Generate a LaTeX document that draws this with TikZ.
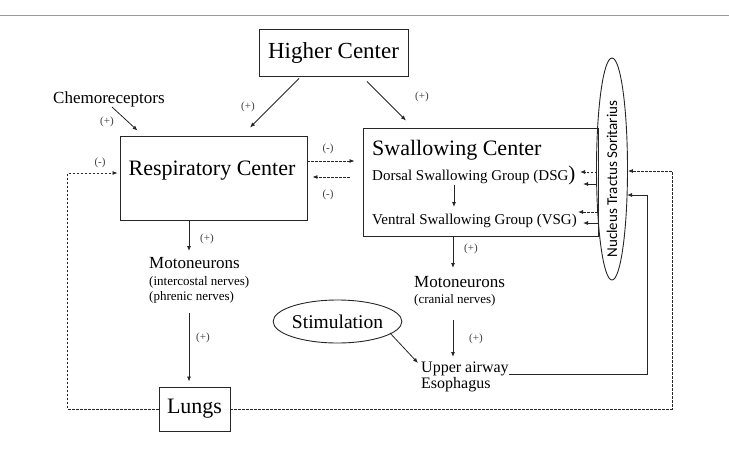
\documentclass[tikz,border=0pt]{standalone}
\usepackage{fontspec}
\setmainfont{Liberation Serif}
\newfontfamily\ntsfont{Carlito}
\usetikzlibrary{calc,arrows.meta,shapes.geometric}
\begin{document}
\begin{tikzpicture}[x=1pt,y=-1pt,
  box/.style={draw=black!85, line width=0.9pt, inner sep=0pt},
  arr/.style={draw=black!85, line width=0.8pt, -{Latex[length=5pt,width=4pt]}},
  darr/.style={arr, dash pattern=on 2.5pt off 1.5pt},
  lbl/.style={font=\fontsize{11}{13}\selectfont, text=black!75, inner sep=0pt},
  txt/.style={inner sep=0pt, anchor=base west},
  fbig/.style={font=\fontsize{22}{26}\selectfont},
  fmid/.style={font=\fontsize{17}{20}\selectfont},
  fsub/.style={font=\fontsize{15}{18}\selectfont},
  fsmall/.style={font=\fontsize{13}{15}\selectfont}]
\useasboundingbox (0,0) rectangle (729,459);
\draw[black!40, line width=0.8pt] (0,15) -- (729,15);

% boxes
\node[box, minimum width=149pt, minimum height=47pt, font=\fontsize{23}{27}\selectfont] (higher) at (333.5,52.5) {Higher Center};
\node[box, minimum width=187pt, minimum height=84pt] (resp) at (213.5,178) {};
\node[fbig, inner sep=0pt, anchor=base] (resptxt) at (212,175) {Respiratory Center};
\node[box, minimum width=235pt, minimum height=108pt] (swal) at (480.5,182) {};
\node[txt, fbig] (swaltxt) at (372,155) {Swallowing Center};
\node[txt, fsub] (dsg) at (372,180) {Dorsal Swallowing Group (DSG{\fontsize{21}{21}\selectfont)}};
\node[txt, fsub] (vsg) at (372,224) {Ventral Swallowing Group (VSG)};
\node[box, ellipse, minimum width=31pt, minimum height=222pt] (nts) at (612,169) {};
\node[rotate=90, inner sep=0pt, font=\ntsfont\fontsize{15}{18}\selectfont] (ntstxt) at (612,179) {Nucleus Tractus Soritarius};
\node[box, minimum width=71pt, minimum height=44pt, font=\fontsize{22}{26}\selectfont] (lungs) at (194.5,409) {Lungs};
\node[box, ellipse, minimum width=127pt, minimum height=43pt, font=\fontsize{19.5}{23}\selectfont] (stim) at (337.5,321.5) {Stimulation};

% free texts
\node[txt, fmid] (chemo) at (53,103) {Chemoreceptors};
\node[txt, fmid] (moto1) at (149,268) {Motoneurons};
\node[txt, fsmall] (moto1a) at (149,285) {(intercostal nerves)};
\node[txt, fsmall] (moto1b) at (149,300) {(phrenic nerves)};
\node[txt, fmid] (moto2) at (414,287) {Motoneurons};
\node[txt, fsmall] (moto2a) at (414,303) {(cranial nerves)};
\node[txt, font=\fontsize{16}{19}\selectfont] (upper) at (421,372) {Upper airway};
\node[txt, font=\fontsize{16}{19}\selectfont] (eso) at (421,388) {Esophagus};

% turning points of the feedback lines
\coordinate (uturn) at ($(nts.center)+(35,205)$);
\coordinate (dturn) at ($(nts.center)+(60,240)$);

% solid arrows
\draw[arr] ($(higher.south)+(-34.5,2)$) -- ($(resp.north)+(36.5,-8)$);
\draw[arr] ($(higher.south)+(33.5,5)$) -- ($(swal.north)+(-74.5,-7)$);
\draw[arr] ($(chemo.base west)+(59,4)$) -- ($(resp.north west)+(18,-5)$);
\draw[arr] ($(resp.south)+(-24.5,0)$) -- ($(moto1.base west)+(40,-17)$);
\draw[arr] ($(moto1b.base west)+(40,13)$) -- ($(lungs.north)+(-5.5,-5)$);
\draw[arr] ($(dsg.base west)+(82,5)$) -- ($(vsg.base west)+(82,-17)$);
\draw[arr] ($(swal.south)+(-27.5,0)$) -- ($(moto2.base west)+(39,-19)$);
\draw[arr] ($(moto2a.base west)+(39,17)$) -- ($(upper.base west)+(32,-15)$);
\draw[arr] ($(stim.center)+(52.5,11.5)$) -- ($(upper.base west)+(-3,-9)$);
\draw[arr] ($(upper.base east)+(0,2)$) -- (uturn) |- ($(nts.center)+(15,26)$);
\draw[arr] ($(nts.center)+(-15,15)$) -- ($(dsg.base west)+(211,4)$);
\draw[arr] ($(nts.center)+(-14,54)$) -- ($(vsg.base west)+(211,-1)$);

% dashed arrows
\draw[darr] ($(nts.center)+(-15,3)$) -- ($(dsg.base west)+(208,-8)$);
\draw[darr] ($(nts.center)+(-14.5,43)$) -- ($(vsg.base west)+(206,-12)$);
\draw[darr] ($(resp.east)+(0,-17)$) -- ($(swal.west)+(-8,-21)$);
\draw[darr] ($(swal.west)+(-13,-5)$) -- ($(resp.east)+(5,-1)$);
\draw[darr] (lungs.west) -- ++(-91,0) |- ($(resp.west)+(-2,-5)$);
\draw[darr] (lungs.east) -- (dturn) |- ($(nts.east)+(0,2)$);

% labels
\node[lbl] at (248,107) {(+)};
\node[lbl] at (422,97) {(+)};
\node[lbl] at (107,122) {(+)};
\node[lbl] at (207,239) {(+)};
\node[lbl] at (203,338) {(+)};
\node[lbl] at (471,249) {(+)};
\node[lbl] at (476,339) {(+)};
\node[lbl] at (100,163) {(-)};
\node[lbl] at (328,149) {(-)};
\node[lbl] at (328,195) {(-)};
\end{tikzpicture}
\end{document}
